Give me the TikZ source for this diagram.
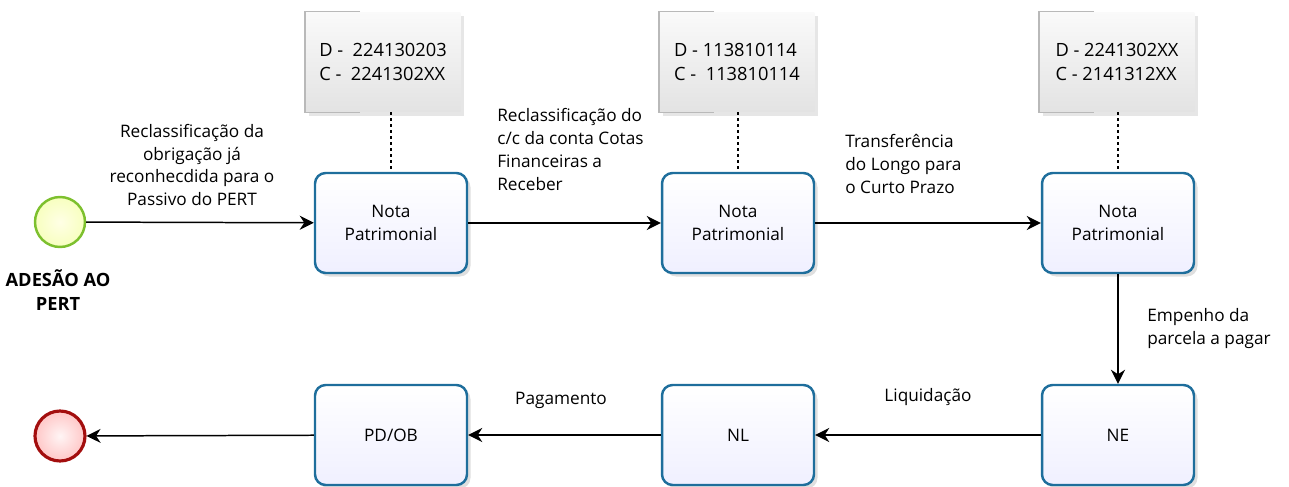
\documentclass[tikz,border=0pt]{standalone}
\usepackage{fontspec}
\setmainfont{Open Sans}
\usetikzlibrary{arrows.meta,shadows,positioning}

\definecolor{taskline}{HTML}{1E6E9C}
\definecolor{startline}{HTML}{7DC02E}
\definecolor{endline}{HTML}{A30E0E}

\begin{document}
\begin{tikzpicture} [
      x = 0.02cm, y = -0.02cm,
      font = \fontsize{9.8}{13}\selectfont,
      task/.style = { draw = taskline, line width = 1.4pt, rounded corners = 6pt,
                      top color = white, bottom color = blue!6, minimum width = 3.04cm,
                      minimum height = 2cm, align = center,
                      drop shadow = {shadow xshift = 2pt, shadow yshift = -2pt, opacity = 0.25} },
      note/.style = { minimum width = 3.1cm, minimum height = 2cm, align = left,
                      font = \fontsize{10.4}{14}\selectfont,
                      top color = gray!4, bottom color = gray!22,
                      drop shadow = {shadow xshift = 2pt, shadow yshift = -2pt, opacity = 0.2} },
      startev/.style = { circle, draw = startline, line width = 1.4pt, minimum size = 1cm,
                         inner color = yellow!10, outer color = green!12!yellow!25 },
      endev/.style = { circle, draw = endline, line width = 1.8pt, minimum size = 1cm,
                       inner color = red!4, outer color = red!22 },
      flow/.style = { -{Stealth[length = 8pt, width = 8pt]}, line width = 0.85pt },
      assoc/.style = { dotted, line width = 1.4pt },
      lbl/.style = { align = left, inner sep = 0 }
      ]

      \useasboundingbox (0,0) rectangle (1289,487);

      % eventos
      \node [startev] (start) at (60,222) {};
      \node [font = \fontsize{10.4}{13.5}\selectfont\bfseries, align = center] (adesao) at (58,290) {ADESÃO AO\\PERT};
      \node [endev] (end) at (60,436) {};

      % tarefas
      \node [task] (np1) at (391,223) {Nota\\Patrimonial};
      \node [task] (np2) at (738,223) {Nota\\Patrimonial};
      \node [task] (np3) at (1118,223) {Nota\\Patrimonial};
      \node [task] (ne)  at (1118,435) {NE};
      \node [task] (nl)  at (738,435) {NL};
      \node [task] (pdob) at (391,435) {PD/OB};

      % anotacoes
      \node [note] (n1) at (383,62) {D -\ \ 224130203\\C -\ \ 2241302XX};
      \node [note] (n2) at (737,62) {D - 113810114\\C -\ \ 113810114};
      \node [note] (n3) at (1117,62) {D - 2241302XX\\C - 2141312XX};
      \foreach \n in {n1,n2,n3}
        \draw [gray!55, line width = 0.8pt] ([xshift = 1.1cm]\n.north west) -- (\n.north west) -- (\n.south west) -- ([xshift = 1.1cm]\n.south west);

      \draw [assoc] (n1.south -| np1.north) -- (np1.north);
      \draw [assoc] (n2.south -| np2.north) -- (np2.north);
      \draw [assoc] (n3.south -| np3.north) -- (np3.north);

      % fluxos
      \draw [flow] (start) -- (np1);
      \draw [flow] (np1) -- (np2);
      \draw [flow] (np2) -- (np3);
      \draw [flow] (np3) -- (ne);
      \draw [flow] (ne) -- (nl);
      \draw [flow] (nl) -- (pdob);
      \draw [flow] (pdob) -- (end);

      % rotulos
      \node [lbl, align = center] (l1) at (192,165) {Reclassificação da\\obrigação já\\reconhecdida para o\\Passivo do PERT};
      \node [lbl, anchor = north west] (l2) at (497,108) {Reclassificação do\\c/c da conta Cotas\\Financeiras a\\Receber};
      \node [lbl, anchor = north west] (l3) at (845,134) {Transferência\\do Longo para\\o Curto Prazo};
      \node [lbl, anchor = north west] (l4) at (1147,308) {Empenho da\\parcela a pagar};
      \node [lbl] (l5) at (928,397) {Liquidação};
      \node [lbl] (l6) at (561,400) {Pagamento};
\end{tikzpicture}
\end{document}
